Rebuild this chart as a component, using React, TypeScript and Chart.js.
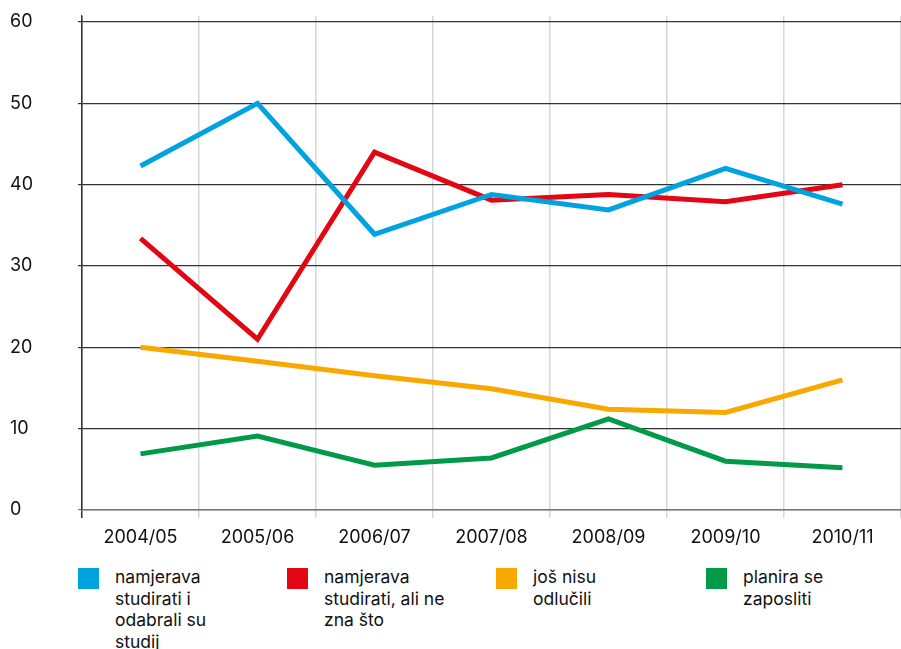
import React, { useEffect, useRef } from "react";
import { Chart, registerables } from "chart.js";

Chart.register(...registerables);

const categories = ["2004/05", "2005/06", "2006/07", "2007/08", "2008/09", "2009/10", "2010/11"];
const studiratiOdabrali = [42.3, 50.0, 33.9, 38.8, 36.9, 42.0, 37.6];
const studiratiNeZna = [33.4, 21.0, 44.0, 38.1, 38.8, 37.9, 40.0];
const josNisuOdlucili = [20.0, 18.3, 16.5, 14.9, 12.4, 12.0, 16.0];
const planiraZaposliti = [6.9, 9.1, 5.5, 6.4, 11.2, 6.0, 5.2];
const yTicks = [0, 10, 20, 30, 40, 50, 60];

const seriesLabels = [
  ["namjerava", "studirati i", "odabrali su", "studij"],
  ["namjerava", "studirati, ali ne", "zna što"],
  ["još nisu", "odlučili"],
  ["planira se", "zaposliti"],
];
const colors = ["#00A3E0", "#E30613", "#F9A800", "#009A49"];
const FONT = "Inter, 'Noto Sans', sans-serif";

export default function App() {
  const ref = useRef<HTMLCanvasElement>(null);
  useEffect(() => {
    if (!ref.current) return;
    const allSeries = [studiratiOdabrali, studiratiNeZna, josNisuOdlucili, planiraZaposliti];
    const chart = new Chart(ref.current, {
      type: "line",
      data: {
        labels: categories,
        datasets: allSeries.map((d, i) => ({
          label: seriesLabels[i].join(" "),
          data: d,
          borderColor: colors[i],
          backgroundColor: colors[i],
          borderWidth: 5,
          pointRadius: 0,
          tension: 0,
          borderJoinStyle: "miter" as const,
        })),
      },
      options: {
        animation: false,
        responsive: true,
        maintainAspectRatio: false,
        layout: { padding: { top: 16, left: 10, right: 0, bottom: 0 } },
        plugins: { legend: { display: false }, tooltip: { enabled: false } },
        scales: {
          x: {
            offset: true,
            grid: {
              offset: true,
              tickLength: 8,
              lineWidth: 1.5,
              color: (c: any) => (c.index === 0 ? "#333" : "#d6d6d6"),
            },
            border: { display: true, color: "#777", width: 1.5 },
            ticks: {
              color: "#111",
              font: { family: FONT, size: 18 },
              padding: 9,
              maxRotation: 0,
            },
            afterFit: (s: any) => {
              s.height = 42;
            },
          },
          y: {
            min: 0,
            max: 60.74,
            afterBuildTicks: (s: any) => {
              s.ticks = yTicks.map((v) => ({ value: v }));
            },
            grid: {
              tickLength: 4,
              lineWidth: 1.2,
              color: (c: any) => (c.tick && c.tick.value === 0 ? "#777" : "#333"),
            },
            border: { display: true, color: "#333", width: 1.2 },
            ticks: {
              color: "#111",
              font: { family: FONT, size: 18 },
              crossAlign: "far",
            },
            afterFit: (s: any) => {
              s.width = 72;
            },
          },
        },
      },
    });
    return () => chart.destroy();
  }, []);

  const legendLeft = [78, 287, 496, 706];

  return (
    <div style={{ position: "absolute", left: 0, top: 0, width: 901, height: 649, background: "#fff", fontFamily: FONT }}>
      <div style={{ position: "absolute", left: 0, top: 0, width: 901, height: 552 }}>
        <canvas ref={ref} />
      </div>
      {seriesLabels.map((lines, i) => (
        <div key={i} style={{ position: "absolute", left: legendLeft[i], top: 566 }}>
          <div style={{ position: "absolute", left: 0, top: 2, width: 21, height: 21, background: colors[i] }} />
          <div style={{ position: "absolute", left: 37, top: 0, whiteSpace: "nowrap", fontSize: 17.5, lineHeight: "21.5px", color: "#111" }}>
            {lines.map((l, j) => (
              <div key={j}>{l}</div>
            ))}
          </div>
        </div>
      ))}
    </div>
  );
}
